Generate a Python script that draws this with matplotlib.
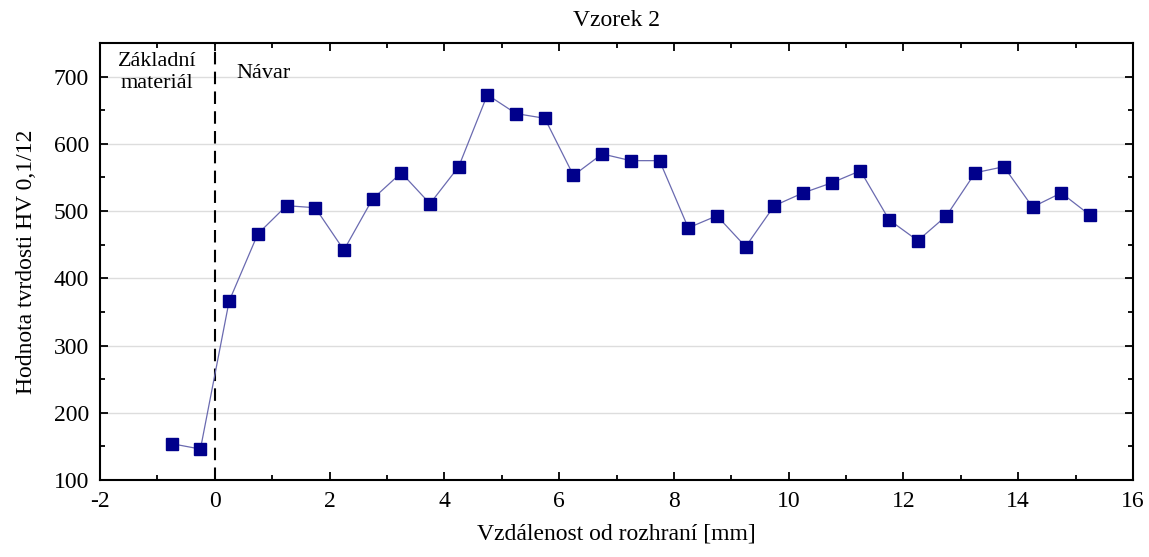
import matplotlib.pyplot as plt
from matplotlib.ticker import MultipleLocator

plt.rcParams['font.family'] = ['Liberation Serif', 'DejaVu Serif']
plt.rcParams['axes.unicode_minus'] = False

# measured distances [mm] and hardness HV 0,1/12
dist = [-0.75, -0.25, 0.25, 0.75, 1.25, 1.75, 2.25, 2.75, 3.25, 3.75, 4.25,
        4.75, 5.25, 5.75, 6.25, 6.75, 7.25, 7.75, 8.25, 8.75, 9.25, 9.75,
        10.25, 10.75, 11.25, 11.75, 12.25, 12.75, 13.25, 13.75, 14.25,
        14.75, 15.25]
hv = [154, 146, 366, 466, 508, 505, 442, 518, 557, 511, 566,
      673, 645, 638, 553, 585, 575, 575, 475, 493, 447, 508,
      527, 542, 560, 487, 456, 493, 557, 566, 506,
      527, 494]

fig = plt.figure(figsize=(11.49, 5.57), dpi=100)
ax = fig.add_axes([100/1149, 1-480/557, 1033/1149, 437/557])

ax.plot(dist, hv, '-', color='#6a6ab0', lw=0.9, zorder=3)
ax.plot(dist, hv, 's', color='#00008b', ms=8, zorder=4, ls='none')
ax.axvline(0, color='black', ls=(0, (6, 3.5)), lw=1.5, zorder=2)

ax.set_xlim(-2, 16)
ax.set_ylim(100, 750)
ax.xaxis.set_major_locator(MultipleLocator(2))
ax.xaxis.set_minor_locator(MultipleLocator(1))
ax.set_yticks([100, 200, 300, 400, 500, 600, 700])
ax.yaxis.set_minor_locator(MultipleLocator(50))
ax.grid(axis='y', color='#dddddd', lw=1, zorder=0)
ax.tick_params(which='both', direction='in', top=True, right=True,
               labelsize=17, width=1.3)
ax.tick_params(which='major', length=6, pad=8)
ax.tick_params(which='minor', length=3.5)
for s in ax.spines.values():
    s.set_linewidth(1.5)

ax.text(-1.0, 706, 'Základní\nmateriál', ha='center', va='center',
        fontsize=16, linespacing=1.2)
ax.text(0.38, 690, 'Návar', ha='left', va='bottom', fontsize=16)

ax.set_title('Vzorek 2', fontsize=17, pad=12)
ax.set_xlabel('Vzdálenost od rozhraní [mm]', fontsize=17, labelpad=8)
ax.set_ylabel('Hodnota tvrdosti HV 0,1/12', fontsize=17, labelpad=12)

fig.savefig('out.png', dpi=100)
